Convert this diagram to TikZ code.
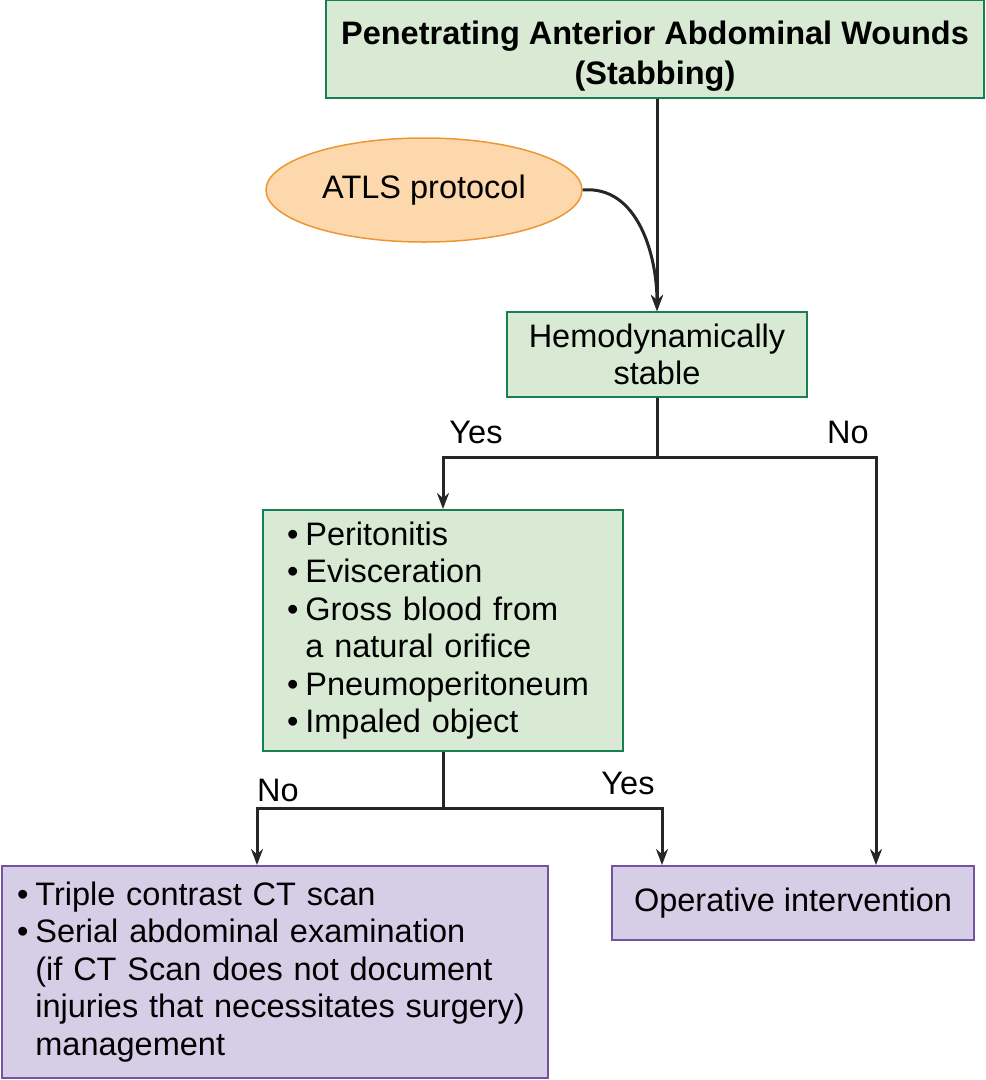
\documentclass[tikz,border=0pt]{standalone}
\usepackage{fontspec}
\setmainfont{Liberation Sans}
\usepackage{xcolor}
\definecolor{boxgreen}{RGB}{216, 234, 212}
\definecolor{edgegreen}{RGB}{22, 128, 84}
\definecolor{boxpurple}{RGB}{214, 206, 230}
\definecolor{edgepurple}{RGB}{118, 82, 160}
\definecolor{ovalfill}{RGB}{253, 216, 172}
\definecolor{ovaledge}{RGB}{238, 150, 52}
\usepackage{tikz}
\usetikzlibrary{arrows.meta,shapes.geometric,calc}

\newcommand{\bul}{\textbullet\hspace{7pt}}
\newcommand{\nobul}{\phantom{\textbullet}\hspace{7pt}}

\tikzset{
  txt/.style={font=\fontsize{32.5}{37.5}\selectfont, inner sep=0pt},
  greenbox/.style={txt, draw=edgegreen, fill=boxgreen, line width=2pt, align=center},
  purplebox/.style={txt, draw=edgepurple, fill=boxpurple, line width=2pt},
  oval/.style={txt, ellipse, draw=ovaledge, fill=ovalfill, line width=1.5pt},
  flow/.style={line width=3pt, black!85},
}

\begin{document}
\begin{tikzpicture}[x=1pt, y=-1pt, >={Stealth[length=16pt,width=12pt]}]
    \useasboundingbox (0,0) rectangle (986,1080);

    \node[greenbox, minimum width=658pt, minimum height=98pt,
          font=\fontsize{32.5}{40}\selectfont\bfseries]
        (wounds) at (655,49) {\rule{0pt}{37pt}Penetrating Anterior Abdominal Wounds\\(Stabbing)};
    \node[oval, minimum width=316pt, minimum height=104pt] (atls) at (424,190) {ATLS protocol};
    \node[greenbox, minimum width=300pt, minimum height=85pt] (stable) at (657,354.5) {Hemodynamically\\stable};

    \node[greenbox, minimum width=360pt, minimum height=241pt, align=left, text width=312pt]
        (signs) at (443,630.5) {%
        \bul Peritonitis\\
        \bul Evisceration\\
        \bul Gross blood from\\
        \nobul a natural orifice\\
        \bul Pneumoperitoneum\\
        \bul Impaled object};

    \node[purplebox, minimum width=546pt, minimum height=212pt, align=left, text width=516pt]
        (ctscan) at (275,972) {%
        \bul Triple contrast CT scan\\
        \bul Serial abdominal examination\\
        \nobul (if CT Scan does not document\\
        \nobul injuries that necessitates surgery)\\
        \nobul management};
    \node[purplebox, minimum width=362pt, minimum height=74pt] (operate) at (793,903) {Operative intervention};

    \coordinate (split1) at (stable.south |- 0,457);
    \coordinate (split2) at (signs.south |- 0,808);
    \path (operate.north) ++(83,0) coordinate (noin);
    \path (operate.north) ++(-131,0) coordinate (yesin);
    \path (ctscan.north) ++(-18,0) coordinate (noleft);

    \draw[flow, ->] (wounds.south -| stable) -- (stable.north);
    \draw[flow, ->] (atls.east) to[out=5, in=90] (stable.north);

    \draw[flow] (stable.south) -- (split1);
    \draw[flow, ->] (split1) -| (signs.north);
    \draw[flow, ->] (split1) -| (noin);

    \draw[flow] (signs.south) -- (split2);
    \draw[flow, ->] (split2) -| (noleft);
    \draw[flow, ->] (split2) -| (yesin);

    \node[txt] (yes1) at (476,432) {Yes};
    \node[txt] (no1) at (848,432) {No};
    \node[txt] (no2) at (278,790) {No};
    \node[txt] (yes2) at (628,783) {Yes};
\end{tikzpicture}
\end{document}
